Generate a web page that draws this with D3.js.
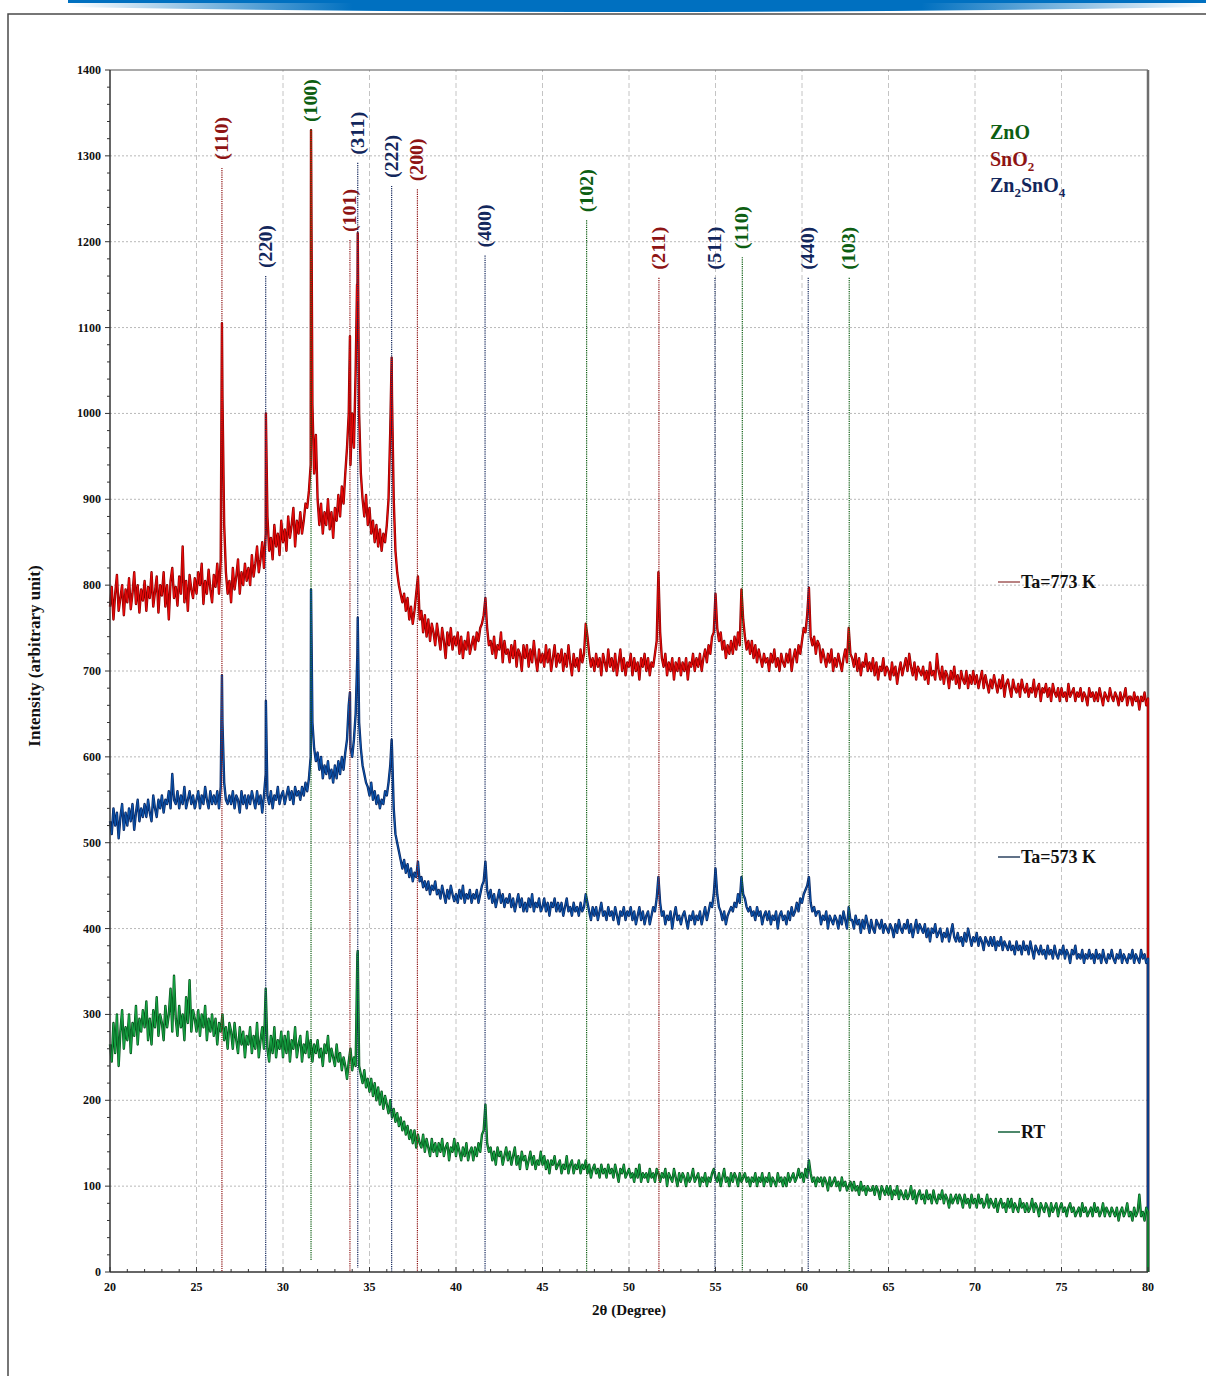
<!DOCTYPE html>
<html>
<head>
<meta charset="utf-8">
<script src="https://cdn.jsdelivr.net/npm/d3@7"></script>
<style>
  body { margin: 0; background: #fff; }
  svg { display: block; }
  text { font-family: "Liberation Serif", "Times New Roman", serif; font-weight: bold; }
</style>
</head>
<body>
<div id="chart"></div>
<script>
// 2theta grid of the scans: 20.0, 20.1, ... 80.0
var angleStart = 20, angleStep = 0.1;

// Ta = 773 K (one row per degree)
var ta773 = [
  775,798,760,790,812,770,785,800,765,795,
  780,808,772,790,815,778,800,768,795,782,
  805,770,798,785,815,775,792,810,768,800,
  788,815,775,800,760,805,820,785,798,776,
  810,790,845,780,805,770,812,795,785,808,
  790,815,800,825,778,805,790,818,795,780,
  812,798,825,790,830,1020,870,815,790,805,
  780,820,795,810,830,790,815,800,825,805,
  820,800,835,810,825,845,815,830,850,820,
  860,880,840,855,830,870,845,860,835,875,
  850,865,840,880,855,870,890,845,875,860,
  885,860,875,895,890,910,940,1010,930,975,
  900,870,895,860,885,870,900,865,885,855,
  890,875,905,880,915,895,930,960,1000,940,
  1000,960,1050,1130,1000,930,900,880,905,870,
  890,860,875,850,870,845,865,840,860,850,
  870,900,980,1020,900,840,815,800,790,780,
  790,770,785,760,775,755,770,790,810,760,
  770,745,765,740,760,735,755,745,730,755,
  740,725,750,735,715,745,730,750,725,740,
  730,745,720,740,715,735,725,745,720,730,
  740,725,745,735,750,755,765,785,750,730,
  735,720,740,715,730,725,745,710,735,720,
  725,710,730,715,735,705,725,720,700,730,
  715,730,705,725,710,735,715,700,725,710,
  720,705,730,710,725,700,715,730,705,720,
  710,725,700,720,705,730,710,695,720,705,
  715,700,725,710,720,755,740,720,705,715,
  700,720,705,715,695,720,710,700,725,705,
  715,700,720,695,710,725,700,715,695,710,
  705,720,695,715,700,710,690,715,705,720,
  700,715,695,710,705,720,735,815,745,715,
  705,720,695,710,700,715,690,710,700,715,
  695,710,700,715,690,710,705,720,700,715,
  705,720,700,715,725,710,730,720,740,745,
  790,750,735,745,725,735,715,730,720,735,
  720,740,725,745,730,795,760,740,725,735,
  720,735,715,730,710,725,715,705,720,710,
  715,700,720,710,725,705,715,700,720,710,
  705,720,710,725,700,715,725,710,730,720,
  735,750,745,765,797,740,730,740,720,735,
  730,710,725,715,705,720,710,725,700,715,
  705,720,710,700,715,725,710,750,720,715,
  705,720,700,715,695,710,705,720,700,710,
  700,715,695,710,690,705,700,715,695,705,
  700,690,710,695,705,685,700,710,695,705,
  715,700,720,705,695,710,690,705,700,695,
  705,690,700,685,710,695,700,690,720,700,
  690,705,685,700,695,680,700,690,705,685,
  695,680,700,690,685,700,680,695,685,700,
  685,695,680,690,700,680,695,685,675,690,
  680,695,685,675,690,680,695,670,685,690,
  680,670,690,680,675,685,670,690,680,675,
  685,670,680,675,690,670,680,685,665,680,
  675,685,670,680,665,685,675,670,680,665,
  680,670,675,665,685,670,675,680,665,675,
  670,680,665,675,670,660,680,670,675,665,
  675,665,680,670,660,675,670,665,680,670,
  665,675,670,660,675,665,670,680,660,670,
  670,660,675,665,670,655,670,665,675,660,
  668
];

// Ta = 573 K
var ta573 = [
  525,510,540,520,535,505,530,545,515,535,
  520,540,525,545,515,535,550,525,540,530,
  545,530,550,535,525,555,540,530,550,540,
  555,535,550,545,560,540,580,550,545,560,
  540,555,545,565,540,550,560,545,555,540,
  550,560,540,555,545,565,550,540,560,545,
  555,545,560,540,565,640,570,550,545,555,
  545,560,540,555,550,535,560,545,555,540,
  555,545,560,550,540,560,545,555,535,555,
  580,555,545,560,540,555,550,565,545,555,
  560,545,555,565,550,560,545,565,555,560,
  550,565,555,570,560,575,600,640,610,595,
  605,585,600,575,590,580,595,575,585,570,
  590,575,595,580,600,585,605,620,660,610,
  600,620,650,720,640,610,590,580,570,565,
  555,570,550,560,545,555,540,550,545,560,
  555,570,590,610,540,510,500,490,480,470,
  480,465,475,460,470,455,465,460,478,455,
  460,448,455,445,455,440,450,445,455,440,
  445,435,450,440,430,445,435,450,440,432,
  440,430,445,435,450,430,440,435,445,430,
  440,435,445,430,440,450,455,478,445,435,
  445,430,440,425,435,445,430,440,425,435,
  430,440,425,435,420,430,440,425,435,420,
  430,420,435,425,440,420,430,425,435,420,
  425,435,420,430,415,430,425,435,420,430,
  420,430,415,425,435,420,425,415,430,420,
  425,415,430,420,425,440,430,420,410,425,
  415,425,410,420,430,415,420,410,425,415,
  420,410,425,415,405,420,415,425,410,420,
  415,425,410,420,405,415,425,410,420,405,
  415,420,405,415,425,420,435,460,430,415,
  420,405,415,410,420,400,415,425,410,415,
  405,415,420,410,400,415,410,420,405,415,
  410,420,405,415,425,410,420,430,425,440,
  470,440,425,420,410,420,405,415,420,425,
  420,430,425,440,430,460,440,435,425,420,
  425,415,420,410,425,415,420,405,415,420,
  410,420,405,415,410,420,400,415,420,410,
  415,405,420,410,425,415,420,430,420,435,
  430,440,445,450,460,430,420,425,415,420,
  420,405,415,410,420,400,415,410,405,415,
  410,400,415,405,420,410,400,425,410,410,
  400,415,405,410,395,410,400,415,405,395,
  410,400,395,410,405,400,410,395,405,400,
  395,405,400,390,405,395,410,400,395,405,
  400,410,395,405,390,400,410,395,405,400,
  395,405,390,400,385,400,395,405,390,395,
  400,385,395,390,400,385,395,405,390,385,
  395,385,390,380,395,385,400,390,380,390,
  385,395,380,390,385,375,390,385,380,390,
  380,390,375,385,380,390,375,385,380,375,
  385,375,380,370,385,375,380,370,385,375,
  380,370,385,375,365,380,375,370,380,370,
  375,365,380,370,375,365,380,370,365,375,
  370,380,365,375,370,360,375,370,380,365,
  370,365,375,360,370,365,375,365,370,360,
  375,365,370,360,375,365,360,370,365,375,
  365,360,370,365,375,360,370,365,360,370,
  365,375,360,370,365,360,375,365,370,360,
  365
];

// RT
var rt = [
  265,245,290,255,300,240,280,305,260,285,
  270,300,255,290,275,310,265,295,280,305,
  285,315,270,295,265,305,285,320,275,300,
  290,270,310,285,300,330,280,345,295,275,
  310,285,300,270,320,290,340,280,305,295,
  280,305,275,300,285,310,270,295,280,300,
  275,295,265,290,280,300,270,285,260,290,
  280,260,290,270,255,285,265,280,250,275,
  265,285,255,275,260,290,250,270,285,260,
  330,260,245,275,255,285,250,270,260,280,
  250,275,255,280,245,270,260,285,250,265,
  275,245,265,255,280,250,270,245,265,255,
  270,250,260,240,265,255,275,245,260,250,
  240,265,245,255,235,250,240,225,245,260,
  235,250,240,370,240,230,220,235,215,225,
  210,225,205,220,200,215,195,210,190,205,
  195,185,200,180,190,175,185,170,180,165,
  175,160,170,155,165,150,165,145,160,150,
  145,160,140,155,145,135,155,140,150,135,
  150,140,155,135,145,150,130,145,140,155,
  135,150,140,130,145,135,150,130,140,145,
  130,145,135,150,140,160,165,195,150,140,
  145,130,140,125,145,135,140,125,135,145,
  130,140,125,135,145,125,135,120,140,130,
  135,120,130,140,125,135,120,130,125,140,
  125,135,120,130,115,130,125,135,120,125,
  130,115,125,120,135,115,125,130,115,125,
  120,130,115,125,120,130,115,125,110,120,
  125,115,120,110,125,115,120,110,125,115,
  120,110,125,115,105,120,115,125,110,115,
  120,110,115,105,120,110,125,105,115,110,
  115,105,120,110,115,105,120,115,105,115,
  110,120,100,115,110,105,120,110,100,115,
  105,115,110,100,115,105,110,120,105,110,
  115,100,110,105,115,100,110,105,115,120,
  110,105,115,100,110,120,105,110,100,115,
  105,115,110,100,115,105,110,115,105,110,
  100,110,105,115,100,110,105,115,100,110,
  105,115,100,110,105,100,115,105,110,100,
  110,100,115,105,110,115,105,110,120,110,
  115,105,120,110,130,115,105,110,100,110,
  105,110,100,110,105,95,110,100,105,110,
  100,105,95,110,100,105,95,100,105,95,
  105,95,100,90,105,95,100,90,100,95,
  95,100,90,100,95,85,100,95,90,100,
  90,100,85,95,90,100,85,95,90,85,
  95,85,90,100,85,95,80,90,95,85,
  90,80,95,85,90,80,95,85,80,90,
  85,95,80,90,85,75,90,80,85,90,
  80,90,85,75,90,80,85,75,90,80,
  85,75,90,80,85,75,80,90,75,85,
  80,75,85,70,80,85,75,80,70,85,
  75,85,70,80,75,70,85,75,80,70,
  80,70,75,85,70,80,75,65,80,75,
  70,80,75,65,80,70,75,80,65,75,
  80,70,75,65,75,80,70,75,65,70,
  75,65,80,70,75,65,70,75,65,80,
  70,75,65,70,80,65,75,70,65,75,
  70,65,75,60,70,75,65,70,80,65,
  70,60,75,65,70,90,65,70,60,75,
  70
];

// sharp peak tops between grid points [2theta, intensity]
var peaks773 = [[26.47,1105],[29.01,1000],[31.62,1330],[33.87,1090],[34.28,1150],[34.32,1210],[36.28,1065]];
var peaks573 = [[26.47,695],[29.01,665],[31.62,795],[33.87,675],[34.32,762],[36.28,620]];
var peaksRT = [[34.32,374]];

var seriesNames = ['Ta=773 K', 'Ta=573 K', 'RT'];

// reflection markers
var planes      = ['(110)','(220)','(100)','(101)','(311)','(222)','(200)','(400)','(102)','(211)','(511)','(110)','(440)','(103)'];
var planeAngles = [26.47, 29.0, 31.62, 33.87, 34.32, 36.28, 37.77, 41.68, 47.55, 51.73, 54.97, 56.55, 60.36, 62.73];
var planePhase  = ['SnO2','Zn2SnO4','ZnO','SnO2','Zn2SnO4','Zn2SnO4','SnO2','Zn2SnO4','ZnO','SnO2','Zn2SnO4','ZnO','Zn2SnO4','ZnO'];
var planeTop    = [1286, 1160, 1330, 1202, 1292, 1265, 1261, 1184, 1225, 1158, 1158, 1182, 1158, 1158];
var planeBottom = [0, 0, 14, 0, 5, 0, 0, 0, 0, 0, 0, 0, 0, 0];

var xTicks = d3.range(20, 81, 5);
var yTicks = d3.range(0, 1401, 100);

var phaseColor = { ZnO: '#0d5e12', SnO2: '#8e1414', Zn2SnO4: '#13275c' };

var W = 1206, H = 1376;
var svg = d3.select('#chart').append('svg')
  .attr('width', W)
  .attr('height', H);

// header bar and page frame
var grad = svg.append('defs').append('linearGradient')
  .attr('id', 'hdr').attr('x1', '0%').attr('x2', '100%');
grad.append('stop').attr('offset', '0%').attr('stop-color', '#ffffff');
grad.append('stop').attr('offset', '25%').attr('stop-color', '#0070c0');
grad.append('stop').attr('offset', '75%').attr('stop-color', '#0070c0');
grad.append('stop').attr('offset', '100%').attr('stop-color', '#ffffff');

svg.append('path')
  .attr('d', 'M68,0 L1206,0 L1206,7 Q637,17 68,7 Z')
  .attr('fill', 'url(#hdr)');
svg.append('rect')
  .attr('x', 68).attr('y', 0).attr('width', W - 68).attr('height', 3)
  .attr('fill', '#0070c0');

svg.append('path')
  .attr('d', 'M8,' + H + ' L8,14 L' + W + ',14')
  .attr('fill', 'none')
  .attr('stroke', '#4a4a4a')
  .attr('stroke-width', 1.5);

var x = d3.scaleLinear().domain([20, 80]).range([110, 1148]);
var y = d3.scaleLinear().domain([0, 1400]).range([1272, 70]);

// grid
svg.append('g').selectAll('line')
  .data(yTicks.filter(function (d) { return d > 0 && d < 1400; }))
  .enter().append('line')
  .attr('x1', x(20)).attr('x2', x(80))
  .attr('y1', function (d) { return y(d); })
  .attr('y2', function (d) { return y(d); })
  .attr('stroke', '#b8b8b8')
  .attr('stroke-width', 1)
  .attr('stroke-dasharray', '2,2');

svg.append('g').selectAll('line')
  .data(xTicks.filter(function (d) { return d > 20 && d < 80; }))
  .enter().append('line')
  .attr('x1', function (d) { return x(d); })
  .attr('x2', function (d) { return x(d); })
  .attr('y1', y(0)).attr('y2', y(1400))
  .attr('stroke', '#c4c4c4')
  .attr('stroke-width', 1)
  .attr('stroke-dasharray', '5,3');

// plot frame (top + right)
svg.append('line')
  .attr('x1', x(20)).attr('x2', x(80)).attr('y1', y(1400)).attr('y2', y(1400))
  .attr('stroke', '#555').attr('stroke-width', 1.2);
svg.append('line')
  .attr('x1', x(80)).attr('x2', x(80)).attr('y1', y(1400)).attr('y2', y(0))
  .attr('stroke', '#6e6e6e').attr('stroke-width', 2.5);

// traces
function buildSeries(values, peaks) {
  var pts = values.map(function (v, i) {
    return [+(angleStart + i * angleStep).toFixed(2), v];
  });
  pts = pts.concat(peaks).sort(function (a, b) { return a[0] - b[0]; });
  pts.push([80, 0]);
  return pts;
}

var line = d3.line()
  .x(function (d) { return x(d[0]); })
  .y(function (d) { return y(d[1]); });

var traces = [
  { data: buildSeries(ta773, peaks773), dark: '#8a0000', bright: '#f00a0a' },
  { data: buildSeries(ta573, peaks573), dark: '#0a2660', bright: '#0b56b0' },
  { data: buildSeries(rt, peaksRT), dark: '#07521c', bright: '#16a845' }
];

traces.forEach(function (t) {
  svg.append('path')
    .datum(t.data)
    .attr('d', line)
    .attr('fill', 'none')
    .attr('stroke', t.dark)
    .attr('stroke-width', 2.4)
    .attr('stroke-linejoin', 'round');
  svg.append('path')
    .datum(t.data)
    .attr('d', line)
    .attr('fill', 'none')
    .attr('stroke', t.bright)
    .attr('stroke-width', 1)
    .attr('stroke-linejoin', 'round');
});

// reflection marker lines and labels
var marks = svg.append('g');
planes.forEach(function (p, i) {
  var px = x(planeAngles[i]);
  var col = phaseColor[planePhase[i]];
  marks.append('line')
    .attr('x1', px).attr('x2', px)
    .attr('y1', y(planeTop[i])).attr('y2', y(planeBottom[i]))
    .attr('stroke', col)
    .attr('stroke-width', 1.2)
    .attr('stroke-dasharray', '1.2,1');
  marks.append('text')
    .attr('transform', 'translate(' + (px + 6) + ',' + (y(planeTop[i]) - 8) + ') rotate(-90)')
    .attr('text-anchor', 'start')
    .attr('font-size', '18px')
    .attr('textLength', 43)
    .attr('lengthAdjust', 'spacingAndGlyphs')
    .attr('fill', col)
    .text(p);
});

// axes
var yAxis = svg.append('g');
yAxis.append('line')
  .attr('x1', x(20)).attr('x2', x(20)).attr('y1', y(0)).attr('y2', y(1400))
  .attr('stroke', '#333').attr('stroke-width', 1.5);
yAxis.selectAll('.minor')
  .data(d3.range(0, 1401, 20))
  .enter().append('line')
  .attr('x1', function (d) { return x(20) - (d % 100 === 0 ? 5 : 3); })
  .attr('x2', x(20))
  .attr('y1', function (d) { return y(d); })
  .attr('y2', function (d) { return y(d); })
  .attr('stroke', '#333').attr('stroke-width', 1);
yAxis.selectAll('text')
  .data(yTicks)
  .enter().append('text')
  .attr('x', x(20) - 9)
  .attr('y', function (d) { return y(d) + 4; })
  .attr('text-anchor', 'end')
  .attr('font-size', '12px')
  .attr('fill', '#111')
  .text(function (d) { return d; });

var xAxis = svg.append('g');
xAxis.append('line')
  .attr('x1', x(20)).attr('x2', x(80)).attr('y1', y(0)).attr('y2', y(0))
  .attr('stroke', '#333').attr('stroke-width', 1.5);
xAxis.selectAll('.minor')
  .data(d3.range(20, 81, 1))
  .enter().append('line')
  .attr('x1', function (d) { return x(d); })
  .attr('x2', function (d) { return x(d); })
  .attr('y1', y(0))
  .attr('y2', function (d) { return y(0) - (d % 5 === 0 ? 5 : 3); })
  .attr('stroke', '#333').attr('stroke-width', 1);
xAxis.selectAll('text')
  .data(xTicks)
  .enter().append('text')
  .attr('x', function (d) { return x(d); })
  .attr('y', y(0) + 19)
  .attr('text-anchor', 'middle')
  .attr('font-size', '12px')
  .attr('fill', '#111')
  .text(function (d) { return d; });

svg.append('text')
  .attr('transform', 'translate(40,656) rotate(-90)')
  .attr('text-anchor', 'middle')
  .attr('font-size', '17px')
  .attr('fill', '#111')
  .text('Intensity (arbitrary unit)');

svg.append('text')
  .attr('x', 629).attr('y', 1315)
  .attr('text-anchor', 'middle')
  .attr('font-size', '15px')
  .attr('fill', '#111')
  .text('2\u03b8 (Degree)');

// phase legend
var phaseLegend = [
  { parts: [['ZnO', 0]], col: phaseColor.ZnO, yy: 139 },
  { parts: [['SnO', 0], ['2', 1]], col: phaseColor.SnO2, yy: 166 },
  { parts: [['Zn', 0], ['2', 1], ['SnO', 0], ['4', 1]], col: phaseColor.Zn2SnO4, yy: 192 }
];
phaseLegend.forEach(function (l) {
  var t = svg.append('text')
    .attr('x', 990).attr('y', l.yy)
    .attr('font-size', '20px')
    .attr('fill', l.col);
  var shifted = false;
  l.parts.forEach(function (pt) {
    var ts = t.append('tspan').text(pt[0]);
    if (pt[1]) {
      ts.attr('font-size', '13px').attr('dy', shifted ? 0 : 5);
      shifted = true;
    } else if (shifted) {
      ts.attr('dy', -5);
      shifted = false;
    }
  });
});

// series labels
var labelY = [582, 857, 1132];
var labelCol = ['#a25a5a', '#2d4360', '#13603a'];
seriesNames.forEach(function (n, i) {
  svg.append('line')
    .attr('x1', 998).attr('x2', 1020)
    .attr('y1', labelY[i]).attr('y2', labelY[i])
    .attr('stroke', labelCol[i]).attr('stroke-width', 1.5);
  svg.append('text')
    .attr('x', 1021).attr('y', labelY[i] + 6)
    .attr('font-size', '18px')
    .attr('fill', '#111')
    .text(n);
});
</script>
</body>
</html>
